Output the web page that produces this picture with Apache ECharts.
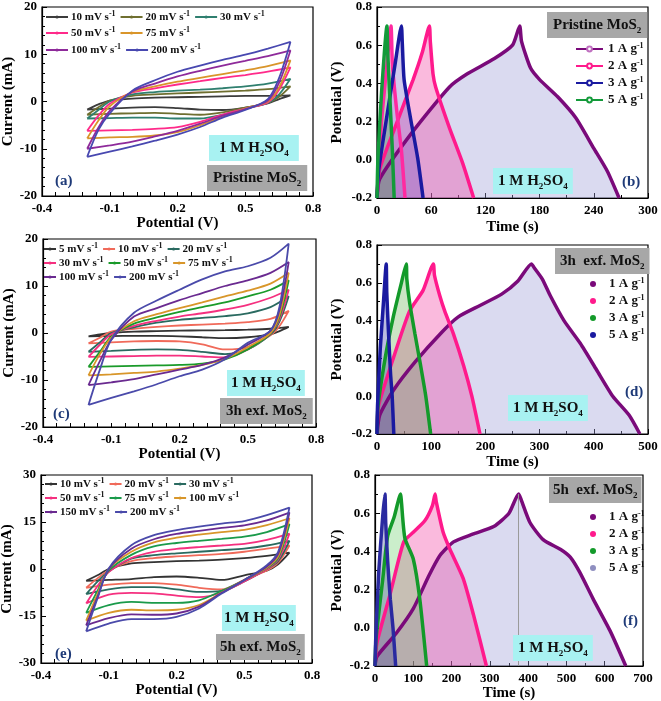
<!DOCTYPE html>
<html>
<head>
<meta charset="utf-8">
<script src="https://cdn.jsdelivr.net/npm/echarts@6/dist/echarts.min.js"></script>
<style>
html, body { margin: 0; padding: 0; background: #fff; }
#main { width: 661px; height: 701px; }
</style>
</head>
<body>
<div id="main"></div>
<script>
var FONT = '"Liberation Serif", "Times New Roman", serif';

// CV potentials: anodic sweep then cathodic sweep (V)
var potAE = [-0.2, -0.15, -0.1, 0, 0.1, 0.2, 0.3, 0.4, 0.5, 0.6, 0.7, 0.65, 0.6, 0.5, 0.4, 0.3, 0.2, 0.1, 0, -0.1, -0.2];
var potC = [-0.2, -0.15, -0.1, 0, 0.1, 0.2, 0.3, 0.4, 0.5, 0.6, 0.68, 0.64, 0.6, 0.5, 0.4, 0.3, 0.2, 0.1, 0, -0.1, -0.2];
var cvTickLabels = [-0.4, -0.1, 0.2, 0.5, 0.8];

// (a) pristine MoS2, current (mA)
var ratesA = [10, 20, 30, 50, 75, 100, 200];
var a10 = [-1.7, -0.6, 0.2, 0.6, 0.8, 0.9, 1.0, 1.1, 1.2, 1.2, 1.3, 0.5, -0.4, -1.3, -1.8, -1.7, -1.4, -1.2, -1.3, -1.5, -1.7];
var a20 = [-2.8, -1.2, 0.2, 1.2, 1.5, 1.7, 1.9, 2.1, 2.3, 2.6, 3.2, 1.0, -0.3, -1.3, -2.3, -2.8, -2.6, -2.4, -2.5, -2.6, -2.8];
var a30 = [-3.6, -1.8, 0, 1.5, 2.0, 2.3, 2.5, 2.8, 3.2, 3.8, 4.8, 1.5, -0.3, -1.5, -2.8, -3.6, -3.6, -3.4, -3.4, -3.5, -3.6];
var a50 = [-6.2, -3, -0.5, 1.9, 2.8, 3.6, 4.3, 5.0, 5.6, 6.3, 7.2, 2.5, -0.2, -1.5, -2.8, -4.3, -5.4, -5.8, -6.0, -6.1, -6.2];
var a75 = [-7.8, -4, -1, 2.0, 3.2, 4.2, 5.0, 5.8, 6.6, 7.5, 8.7, 3.0, 0, -1.5, -3.2, -5.0, -6.5, -7.2, -7.5, -7.6, -7.8];
var a100 = [-10, -5.5, -2, 2.1, 3.8, 5.3, 6.5, 7.6, 8.6, 9.6, 10.8, 4.0, 0.2, -1.6, -3.0, -4.7, -6.2, -7.4, -8.5, -9.3, -10];
var a200 = [-11.7, -6, -2.5, 2.3, 4.5, 6.3, 7.6, 8.8, 9.9, 11.2, 12.6, 5.0, 0.5, -1.8, -3.4, -5.4, -7.0, -8.3, -9.5, -10.6, -11.7];

// (c) 3h exfoliated
var ratesC = [5, 10, 20, 30, 50, 75, 100, 200];
var c5 = [-0.7, -0.3, 0, 0.3, 0.4, 0.5, 0.55, 0.6, 0.7, 0.9, 1.3, 0.4, -0.3, -0.9, -1.1, -0.9, -0.7, -0.6, -0.6, -0.65, -0.7];
var c10 = [-2.2, -1, 0.3, 0.9, 1.3, 1.6, 1.8, 2.0, 2.3, 3.0, 4.7, 1.5, -0.5, -3.0, -3.5, -2.4, -1.8, -1.7, -1.8, -2.0, -2.2];
var c20 = [-4, -2, 0, 1.2, 2.2, 2.8, 3.2, 3.6, 4.2, 5.5, 7.8, 2.5, -0.3, -3.5, -4.5, -4.0, -3.6, -3.5, -3.6, -3.8, -4.0];
var c30 = [-5.1, -2.5, -0.3, 1.5, 2.6, 3.5, 4.2, 5.0, 6.0, 7.5, 9.2, 3.0, 0, -3.5, -5.2, -5.0, -4.8, -4.8, -4.9, -5.0, -5.1];
var c50 = [-7.2, -4, -0.8, 2.0, 3.3, 4.5, 5.5, 6.5, 7.8, 9.2, 11.2, 3.5, 0, -3.5, -5.6, -6.5, -6.8, -6.9, -7.0, -7.1, -7.2];
var c75 = [-9, -4.5, -1, 2.5, 4, 5.3, 6.5, 7.8, 9, 10.5, 12.8, 4, 0, -3, -5.5, -6.8, -7.6, -8.2, -8.5, -8.8, -9];
var c100 = [-11.1, -6, -1.5, 3.5, 5.3, 7, 8.5, 10, 11.2, 12.8, 15.1, 5, 0.5, -2.5, -5.2, -6.8, -7.8, -8.8, -9.8, -10.5, -11.1];
var c200 = [-15.3, -7.8, -1.4, 4.3, 6.9, 9.2, 11.4, 13.1, 14.2, 16, 19, 5.7, 0.5, -2.1, -5.6, -7.8, -9.2, -10.9, -12.4, -13.8, -15.3];

// (e) 5h exfoliated
var ratesE = [10, 20, 30, 50, 75, 100, 150, 200];
var e10 = [-3.8, -2, 0, 1.8, 2.2, 2.5, 2.7, 3.0, 3.5, 4.2, 5.2, 1.5, -0.5, -2.0, -3.5, -2.8, -2.4, -2.6, -3.2, -3.5, -3.8];
var e20 = [-6, -3, -0.5, 2.5, 3.5, 4, 4.4, 4.8, 5.5, 6.5, 7.5, 2, -0.5, -3.5, -6.5, -6, -5, -4.5, -4.5, -5, -6];
var e30 = [-8, -4, -0.8, 3.3, 4.4, 5, 5.5, 6, 6.5, 7.5, 9, 2.5, 0, -4, -7, -7.3, -6.5, -5.8, -5.8, -6.5, -8];
var e50 = [-11, -5.5, -1, 3.5, 5.5, 6.4, 7, 7.5, 8, 9.3, 11.3, 3, 0, -4, -7.5, -9, -8.5, -7.8, -7.6, -8.2, -11];
var e75 = [-14, -7, -0.5, 4.5, 7.2, 8.3, 9, 9.6, 10.3, 11.8, 14.3, 3.5, 0.3, -3.5, -7, -10, -10.8, -10.8, -10.5, -11.5, -14];
var e100 = [-16.5, -8, 0, 5.5, 8.5, 10, 11, 11.8, 12.5, 14, 16.2, 4, 0.5, -3.5, -7.5, -11.5, -13, -13.2, -13, -14, -16.5];
var e150 = [-18, -9, 0, 6.5, 9.5, 11.2, 12.2, 13.1, 13.9, 15.5, 18, 4.8, 0.8, -3.5, -7.6, -12, -14.2, -14.6, -14.5, -15.7, -18];
var e200 = [-19.9, -9.4, 0.2, 7.6, 10.8, 12.4, 13.5, 14.5, 15.3, 17.2, 19.6, 5.5, 1.2, -3.6, -7.8, -12.6, -15.3, -16, -16, -17.4, -19.9];

// GCD curves: time (s) and potential (V)
var b1t = [0, 3, 40, 80, 100, 130, 150, 158, 160, 170, 180, 200, 220, 240, 255, 268];
var b1v = [-0.2, -0.1, 0.15, 0.38, 0.45, 0.53, 0.6, 0.7, 0.62, 0.48, 0.42, 0.33, 0.22, 0.06, -0.06, -0.2];
var b2t = [0, 3, 20, 40, 50, 58, 59, 62, 65, 80, 95, 107];
var b2v = [-0.2, -0.05, 0.17, 0.42, 0.56, 0.7, 0.62, 0.45, 0.38, 0.17, -0.02, -0.2];
var b3t = [0, 2, 10, 20, 27, 28, 30, 37, 45, 51];
var b3v = [-0.2, -0.05, 0.2, 0.5, 0.7, 0.61, 0.42, 0.22, 0.01, -0.2];
var b5t = [0, 1, 5, 11, 12, 14, 17, 19];
var b5v = [-0.2, 0, 0.35, 0.7, 0.55, 0.35, 0.05, -0.2];
var bxt = [0, 5, 10, 15.5, 17, 22, 27, 31];
var bxv = [-0.2, 0.2, 0.45, 0.7, 0.5, 0.25, 0.05, -0.2];

var d1t = [0, 5, 30, 70, 120, 150, 190, 230, 260, 285, 290, 305, 320, 345, 375, 405, 435, 465, 485];
var d1v = [-0.2, -0.1, 0.03, 0.18, 0.34, 0.42, 0.48, 0.54, 0.61, 0.7, 0.68, 0.62, 0.53, 0.4, 0.28, 0.14, 0, -0.1, -0.2];
var d2t = [0, 3, 30, 60, 85, 104, 106, 116, 125, 141, 160, 175, 190];
var d2v = [-0.2, -0.05, 0.2, 0.45, 0.56, 0.7, 0.64, 0.53, 0.45, 0.33, 0.16, 0, -0.2];
var d3t = [0, 2, 15, 30, 45, 54, 55, 60, 70, 80, 90, 99];
var d3v = [-0.2, -0.05, 0.2, 0.42, 0.6, 0.7, 0.62, 0.5, 0.33, 0.17, 0, -0.2];
var d5t = [0, 1, 6, 12, 17, 18, 21, 25, 28, 31];
var d5v = [-0.2, -0.05, 0.25, 0.5, 0.7, 0.55, 0.35, 0.12, 0, -0.2];

var f1t = [0, 5, 55, 100, 140, 170, 205, 255, 310, 350, 375, 380, 405, 440, 485, 510, 535, 570, 615, 655];
var f1v = [-0.2, -0.15, -0.03, 0.1, 0.27, 0.38, 0.45, 0.49, 0.53, 0.6, 0.7, 0.68, 0.55, 0.46, 0.41, 0.37, 0.29, 0.15, -0.02, -0.2];
var f2t = [0, 5, 40, 75, 100, 130, 150, 157, 160, 178, 196, 230, 257, 291];
var f2v = [-0.2, -0.08, 0.18, 0.45, 0.5, 0.56, 0.64, 0.7, 0.66, 0.5, 0.41, 0.26, 0.07, -0.2];
var f3t = [0, 3, 20, 33, 50, 67, 69, 78, 100, 117, 135];
var f3v = [-0.2, -0.05, 0.25, 0.48, 0.58, 0.7, 0.66, 0.47, 0.36, 0.15, -0.2];
var f5t = [0, 2, 10, 20, 26, 28, 33, 40, 47, 54];
var f5v = [-0.2, -0.05, 0.3, 0.58, 0.7, 0.55, 0.35, 0.15, 0, -0.2];

var densities = [1, 2, 3, 5];

// ---------- helpers ----------
var labelMap = {};
var supRich = {
  sup: { fontSize: 8, fontWeight: 'bold', fontFamily: FONT, verticalAlign: 'top', lineHeight: 8, color: '#111' }
};

function zip(xs, ys) {
  return xs.map(function (x, i) { return [x, ys[i]]; });
}

function cvSeries(panel, gi, pot, rates, curves, colors) {
  return curves.map(function (cur, k) {
    var name = panel + rates[k];
    labelMap[name] = rates[k] + ' mV s{sup|-1}';
    return {
      name: name, type: 'line', xAxisIndex: gi, yAxisIndex: gi,
      data: zip(pot, cur),
      smooth: 0.3, showSymbol: false, symbol: 'circle', symbolSize: 3,
      lineStyle: { width: 1.8, color: colors[k] },
      itemStyle: { color: colors[k] },
      silent: true
    };
  });
}

function gcdSeries(name, gi, ts, vs, line, area, dot, sym) {
  labelMap[name] = name.slice(1) + ' A g{sup|-1}';
  return {
    name: name, type: 'line', xAxisIndex: gi, yAxisIndex: gi,
    data: zip(ts, vs),
    smooth: 0.2, showSymbol: false,
    symbol: sym, symbolSize: 5,
    lineStyle: { width: 3.5, color: line },
    itemStyle: { color: dot || line },
    areaStyle: { color: area, origin: 'start' },
    silent: true
  };
}

// thin grey drop line from the charge peak down to the axis
function peakLine(ts, vs) {
  var k = vs.indexOf(Math.max.apply(null, vs));
  return {
    silent: true, symbol: 'none', label: { show: false },
    lineStyle: { color: '#9a9a9a', width: 1, type: 'solid' },
    data: [[{ coord: [ts[k], vs[k]] }, { coord: [ts[k], -0.2] }]]
  };
}

function cvMinorTicks(labels) {
  var out = [];
  for (var i = 0; i < labels.length - 1; i++) {
    for (var j = 0; j < 5; j++) out.push(labels[i] + (labels[i + 1] - labels[i]) * j / 5);
  }
  out.push(labels[labels.length - 1]);
  return out;
}

var axisText = { color: '#000', fontSize: 13, fontWeight: 'bold', fontFamily: FONT };
var nameText = { color: '#000', fontSize: 15, fontWeight: 'bold', fontFamily: FONT };
var axLine = { onZero: false, lineStyle: { color: '#000', width: 1.2 } };

function xAxisCV(gi, gap) {
  return {
    type: 'value', gridIndex: gi, min: -0.4, max: 0.8,
    name: 'Potential (V)', nameLocation: 'middle', nameGap: gap, nameTextStyle: nameText,
    axisLine: axLine,
    axisTick: { inside: true, length: 4, customValues: cvMinorTicks(cvTickLabels), lineStyle: { color: '#000' } },
    axisLabel: Object.assign({ margin: 6, customValues: cvTickLabels, formatter: function (v) { return v.toFixed(1); } }, axisText),
    splitLine: { show: false }
  };
}

function yAxisCV(gi, lim, step, gap) {
  return {
    type: 'value', gridIndex: gi, min: -lim, max: lim, interval: step,
    name: 'Current (mA)', nameLocation: 'middle', nameGap: gap, nameTextStyle: nameText,
    axisLine: axLine,
    axisTick: { inside: true, length: 5, lineStyle: { color: '#000' } },
    minorTick: { show: true, splitNumber: 5, length: 3, lineStyle: { color: '#000' } },
    axisLabel: Object.assign({ margin: 5 }, axisText),
    splitLine: { show: false }
  };
}

function xAxisT(gi, max, step, gap) {
  return {
    type: 'value', gridIndex: gi, min: 0, max: max, interval: step,
    name: 'Time (s)', nameLocation: 'middle', nameGap: gap, nameTextStyle: nameText,
    axisLine: axLine,
    axisTick: { inside: true, length: 5, lineStyle: { color: '#000' } },
    minorTick: { show: true, splitNumber: 2, length: 3, lineStyle: { color: '#000' } },
    axisLabel: Object.assign({ margin: 6 }, axisText),
    splitLine: { show: false }
  };
}

function yAxisV(gi, gap) {
  return {
    type: 'value', gridIndex: gi, min: -0.2, max: 0.8, interval: 0.2,
    name: 'Potential (V)', nameLocation: 'middle', nameGap: gap, nameTextStyle: nameText,
    axisLine: axLine,
    axisTick: { inside: true, length: 5, lineStyle: { color: '#000' } },
    minorTick: { show: true, splitNumber: 2, length: 3, lineStyle: { color: '#000' } },
    axisLabel: Object.assign({ margin: 5, formatter: function (v) { return v.toFixed(1); } }, axisText),
    splitLine: { show: false }
  };
}

function grid(l, t, w, h) {
  return { left: l, top: t, width: w, height: h, show: true, borderColor: '#000', borderWidth: 1.2, backgroundColor: 'transparent', outerBoundsMode: 'none' };
}

var boxStyle = {
  color: '#111', fontSize: 15, fontWeight: 'bold', fontFamily: FONT, lineHeight: 20,
  rich: { s: { fontSize: 9, fontWeight: 'bold', fontFamily: FONT, verticalAlign: 'bottom', lineHeight: 12, color: '#111' } }
};
function box(text, left, top, bg, padX) {
  return { text: text, left: left, top: top, backgroundColor: bg, padding: [3, padX, 3, padX], textStyle: boxStyle };
}
function tag(text, left, top) {
  return { text: text, left: left, top: top, padding: 0,
    textStyle: { color: '#1e3a78', fontSize: 15, fontWeight: 'bold', fontFamily: FONT } };
}
var CYAN = '#a8f2f2', GREY = '#a7a7a7';
var ACID = '1 M H{s|2}SO{s|4}';

function cvLegend(names, left, top, iw) {
  return {
    data: names, left: left, top: top, orient: 'horizontal', padding: 0,
    itemWidth: iw, itemHeight: 4, itemGap: 4, selectedMode: false,
    formatter: function (n) { return labelMap[n]; },
    textStyle: { color: '#111', fontSize: 11, fontWeight: 'bold', fontFamily: FONT, lineHeight: 14, padding: [0, 0, 0, -2], rich: supRich }
  };
}
function gcdLegend(names, left, top, lineIcon) {
  var l = {
    data: names, left: left, top: top, orient: 'vertical', padding: 0,
    itemGap: 3, selectedMode: false,
    formatter: function (n) { return labelMap[n]; },
    textStyle: { color: '#111', fontSize: 13, fontWeight: 'bold', fontFamily: FONT, lineHeight: 14, rich: supRich }
  };
  if (lineIcon) {
    l.itemWidth = 27; l.itemHeight = 6;
  } else {
    l.icon = 'circle'; l.itemWidth = 6; l.itemHeight = 6;
    l.textStyle.padding = [0, 0, 0, 8];
  }
  return l;
}

// ---------- series ----------
var f1 = gcdSeries('f1', 5, f1t, f1v, '#7a0a7a', 'rgba(160,160,215,0.55)', null, 'circle');
f1.markLine = peakLine(f1t, f1v);

var series = [].concat(
  cvSeries('a', 0, potAE, ratesA, [a10, a20, a30, a50, a75, a100, a200],
    ['#3c3c3c', '#6f6f30', '#2f7f6f', '#ff2a8a', '#d9952a', '#8e2a9a', '#4848b0']),
  cvSeries('c', 2, potC, ratesC, [c5, c10, c20, c30, c50, c75, c100, c200],
    ['#333333', '#f06a5a', '#2a6a60', '#f5307f', '#1a9a2a', '#d8962a', '#6a2a90', '#4a4aaa']),
  cvSeries('e', 4, potAE, ratesE, [e10, e20, e30, e50, e75, e100, e150, e200],
    ['#333333', '#f06a5a', '#2a6a60', '#f5307f', '#1a9a4a', '#d8962a', '#6a2a90', '#4a4aaa']),
  [
    gcdSeries('b1', 1, b1t, b1v, '#7a0a7a', 'rgba(160,160,215,0.55)', '#c070c0', 'emptyCircle'),
    gcdSeries('b2', 1, b2t, b2v, '#ff1a8c', 'rgba(240,60,160,0.5)', null, 'emptyCircle'),
    gcdSeries('bx', 1, bxt, bxv, '#ff2aa0', 'rgba(200,120,200,0.35)', null, 'emptyCircle'),
    gcdSeries('b3', 1, b3t, b3v, '#1a1aa0', 'rgba(90,60,190,0.4)', null, 'emptyCircle'),
    gcdSeries('b5', 1, b5t, b5v, '#139a3a', 'rgba(60,170,60,0.45)', null, 'emptyCircle'),

    gcdSeries('d1', 3, d1t, d1v, '#7a0a7a', 'rgba(160,160,215,0.55)', null, 'circle'),
    gcdSeries('d2', 3, d2t, d2v, '#ff1a8c', 'rgba(240,60,160,0.5)', null, 'circle'),
    gcdSeries('d3', 3, d3t, d3v, '#139a2a', 'rgba(90,170,70,0.45)', null, 'circle'),
    gcdSeries('d5', 3, d5t, d5v, '#1a1aa0', 'rgba(40,40,160,0.45)', null, 'circle'),

    f1,
    gcdSeries('f2', 5, f2t, f2v, '#ff1a8c', 'rgba(240,60,160,0.5)', null, 'circle'),
    gcdSeries('f3', 5, f3t, f3v, '#139a2a', 'rgba(90,200,90,0.45)', null, 'circle'),
    gcdSeries('f5', 5, f5t, f5v, '#2a2aa0', 'rgba(60,60,150,0.45)', '#8f8fc0', 'circle')
  ]
);

function names(p, list) { return list.map(function (v) { return p + v; }); }

var option = {
  animation: false,
  backgroundColor: '#fff',
  grid: [
    grid(42, 7, 271, 189),
    grid(377, 7, 271, 191),
    grid(43, 239, 273, 188),
    grid(377, 245, 271, 189),
    grid(41, 475, 271, 188),
    grid(375, 475, 268, 191)
  ],
  xAxis: [
    xAxisCV(0, 17),
    xAxisT(1, 300, 60, 22),
    xAxisCV(2, 17),
    xAxisT(3, 500, 100, 21),
    xAxisCV(4, 15),
    xAxisT(5, 700, 100, 19)
  ],
  yAxis: [
    yAxisCV(0, 20, 10, 26),
    yAxisV(1, 32),
    yAxisCV(2, 20, 10, 26),
    yAxisV(3, 32),
    yAxisCV(4, 30, 15, 26),
    yAxisV(5, 30)
  ],
  legend: [
    cvLegend(names('a', [10, 20, 30]), 45, 10, 22),
    cvLegend(names('a', [50, 75]), 45, 26, 22),
    cvLegend(names('a', [100, 200]), 45, 43, 22),
    cvLegend(names('c', [5, 10, 20]), 43, 242, 12),
    cvLegend(names('c', [30, 50, 75]), 43, 256, 12),
    cvLegend(names('c', [100, 200]), 43, 270, 12),
    cvLegend(names('e', [10, 20, 30]), 44, 477, 12),
    cvLegend(names('e', [50, 75, 100]), 44, 491, 12),
    cvLegend(names('e', [150, 200]), 44, 505, 12),
    gcdLegend(names('b', densities), 575, 42, true),
    gcdLegend(names('d', densities), 590, 277, false),
    gcdLegend(names('f', densities), 590, 510, false)
  ],
  title: [
    box(ACID, 209, 135, CYAN, 10),
    box('Pristine MoS{s|2}', 207, 165, GREY, 6),
    tag('(a)', 55, 174),
    box('Pristine MoS{s|2}', 547, 12, GREY, 6),
    box(ACID, 493, 168, CYAN, 5),
    tag('(b)', 622, 175),
    box(ACID, 227, 370, CYAN, 4),
    box('3h exf. MoS{s|2}', 220, 398, GREY, 6),
    tag('(c)', 53, 407),
    box('3h  exf. MoS{s|2}', 555, 248, GREY, 5),
    box(ACID, 508, 395, CYAN, 5),
    tag('(d)', 625, 385),
    box(ACID, 222, 605, CYAN, 2),
    box('5h exf. MoS{s|2}', 216, 634, GREY, 4),
    tag('(e)', 55, 647),
    box('5h  exf. MoS{s|2}', 549, 477, GREY, 4),
    box(ACID, 513, 635, CYAN, 5),
    tag('(f)', 623, 614)
  ],
  series: series
};

var myChart = echarts.init(document.getElementById('main'));
myChart.setOption(option);
</script>
</body>
</html>
